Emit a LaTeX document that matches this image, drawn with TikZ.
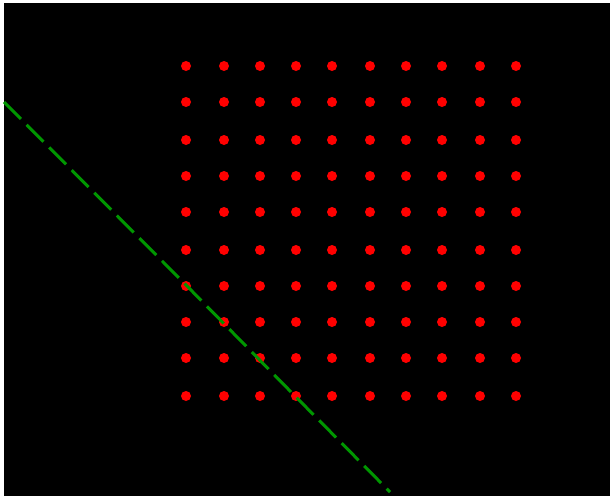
\documentclass[tikz,border=0pt]{standalone}
\definecolor{dotred}{RGB}{255,0,0}
\definecolor{linegreen}{RGB}{0,150,0}
\tikzset{
  gdot/.style={circle, fill=dotred, inner sep=0pt, minimum size=10pt},
  gline/.style={draw=linegreen, line width=3pt, dash pattern=on 24pt off 8pt}
}
\begin{document}
\begin{tikzpicture}[x=1pt,y=-1pt]
\useasboundingbox (0,0) rectangle (613,498);
\fill[white] (0,0) rectangle (613,498);
\fill[black] (4,3) rectangle (610,496);
\foreach \x [count=\i] in {186,224,260,296,332,370,406,442,480,516}{
  \foreach \y [count=\j] in {66,102,140,176,212,250,286,322,358,396}{
    \node[gdot] (d\i-\j) at (\x,\y) {};
  }
}
\coordinate (a) at (4,102);
\coordinate (b) at (186,285);
\coordinate (c) at (295,396);
\coordinate (e) at (390,492);
\draw[gline] (a) -- (b) -- (c) -- (e);
\end{tikzpicture}
\end{document}
